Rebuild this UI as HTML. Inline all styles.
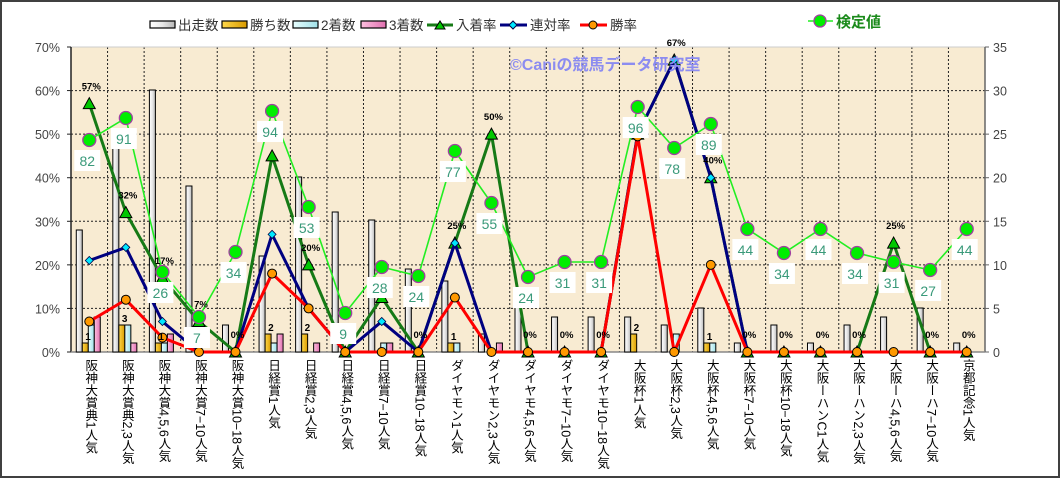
<!DOCTYPE html>
<html><head><meta charset="utf-8">
<style>
html,body{margin:0;padding:0;background:#fff;}
#wrap{position:relative;width:1060px;height:478px;overflow:hidden;font-family:"Liberation Sans","Noto Sans CJK JP",sans-serif;}
.xl{position:absolute;top:359px;writing-mode:vertical-rl;font-size:12.5px;color:#000;white-space:nowrap;line-height:13px;}
</style></head><body>
<div id="wrap">
<svg id="s" width="1060" height="478" xmlns="http://www.w3.org/2000/svg" style="position:absolute;left:0;top:0">
<defs>
<linearGradient id="gw" x1="0" x2="1"><stop offset="0" stop-color="#fff"/><stop offset="0.5" stop-color="#e8e8e8"/><stop offset="1" stop-color="#b8b8b8"/></linearGradient>
<linearGradient id="gg" x1="0" x2="1"><stop offset="0" stop-color="#ffd84a"/><stop offset="1" stop-color="#d89a00"/></linearGradient>
<linearGradient id="gc" x1="0" x2="1"><stop offset="0" stop-color="#e8ffff"/><stop offset="1" stop-color="#a0e0e8"/></linearGradient>
<linearGradient id="gp" x1="0" x2="1"><stop offset="0" stop-color="#ffc0e0"/><stop offset="1" stop-color="#e070b0"/></linearGradient>
</defs>
<rect x="1" y="1" width="1058" height="476" fill="#fff" stroke="#404040" stroke-width="2"/>
<rect x="71" y="47" width="914" height="305" fill="#f8ebd2"/>
<g id="grid"></g><g id="bars"></g><g id="lines"></g><g id="txt"></g>
<text x="510" y="70" font-size="16" font-weight="bold" fill="#8c8cf0" font-family="Liberation Sans,Noto Sans CJK JP,sans-serif">©Caniの競馬データ研究室</text>
</svg>
<div id="xls"></div>
</div>
<script>
var NS="http://www.w3.org/2000/svg";
function el(p,t,a,tx){var e=document.createElementNS(NS,t);for(var k in a)e.setAttribute(k,a[k]);if(tx!==undefined)e.textContent=tx;document.getElementById(p).appendChild(e);return e;}
var L=71,R=985,T=47,B=352,W=(R-L)/25;
function cx(i){return L+W*(i+.5);}
function py(p){return B-p*(B-T)/70;}
for(var i=1;i<7;i++){var y=py(i*10);el("grid","line",{x1:L,x2:R,y1:y,y2:y,stroke:"#222","stroke-width":1,"stroke-dasharray":"2,2"});}
for(var i=1;i<25;i++){var x=L+W*i;el("grid","line",{x1:x,x2:x,y1:T,y2:B,stroke:"#222","stroke-width":1,"stroke-dasharray":"2,2"});}
el("grid","line",{x1:L,x2:R,y1:T,y2:T,stroke:"#ccc"});
el("grid","line",{x1:L,x2:L,y1:T,y2:B,stroke:"#222","stroke-width":1.5});
el("grid","line",{x1:R,x2:R,y1:T,y2:B,stroke:"#666","stroke-width":1.5});
el("grid","line",{x1:L,x2:R,y1:B,y2:B,stroke:"#888","stroke-width":1.5});
for(var i=0;i<8;i++){var y=py(i*10);
 el("txt","text",{x:60,y:y+5,"text-anchor":"end","font-size":12.5,fill:"#444"},(i*10)+"%");
 el("grid","line",{x1:L-4,x2:L,y1:y,y2:y,stroke:"#222"});
 el("grid","line",{x1:R,x2:R+4,y1:y,y2:y,stroke:"#666"});
 el("txt","text",{x:993,y:y+5,"font-size":12.5,fill:"#444"},String(i*5));}
var bars=[[230,343,325,317],[134,325,325,343],[90,343,343,334],[186,0,0,0],[325,0,0,0],[256,334,343,334],[177,334,0,343],[212,0,0,0],[220,0,343,343],[269,0,0,0],[281,343,343,0],[334,0,0,343],[299,0,0,0],[317,0,0,0],[317,0,0,0],[317,334,0,0],[325,0,334,0],[308,343,343,0],[343,0,0,0],[325,0,0,0],[343,0,0,0],[325,0,0,0],[317,0,0,0],[308,0,0,0],[343,0,0,0]];
var fills=["url(#gw)","url(#gg)","url(#gc)","url(#gp)"];
bars.forEach(function(b,i){for(var j=0;j<4;j++){if(!b[j])continue;var x=cx(i)-13+j*6;el("bars","rect",{x:x,y:b[j],width:6,height:B-b[j],fill:fills[j],stroke:"#000","stroke-width":1});}});
var cnt={0:"1",1:"3",2:"1",5:"2",6:"2",10:"1",15:"2",17:"1"};
for(var k in cnt){el("txt","text",{x:cx(+k)-4,y:py(0)-(bars[k][1]?B-bars[k][1]:9)-3,"font-size":10,"font-weight":"bold"},cnt[k]);}
function pts(a){return a.map(function(v,i){return cx(i)+","+v;}).join(" ");}
var Z=B;
var nyu=[py(57),py(32),py(17),py(7),Z,py(45),py(20),Z,py(12.5),Z,py(25),py(50),Z,Z,Z,py(50),py(67),py(40),Z,Z,Z,Z,py(25),Z,Z];
var ren=[py(21),py(24),py(7),Z,Z,py(27),py(10),Z,py(7),Z,py(25),Z,Z,Z,Z,py(50),py(67),py(40),Z,Z,Z,Z,Z,Z,Z];
var win=[py(7),py(12),py(3.3),Z,Z,py(18),py(10),Z,Z,Z,py(12.5),Z,Z,Z,Z,py(49.5),Z,py(20),Z,Z,Z,Z,Z,Z,Z];
var ken=[140,118,272,317,252,111,207,313,267,276,151,203,277,262,262,107,148,124,229,253,229,253,262,270,229];
var kv=[82,91,26,7,34,94,53,9,28,24,77,55,24,31,31,96,78,89,44,34,44,34,31,27,44];
el("lines","polyline",{points:pts(nyu),fill:"none",stroke:"#167a16","stroke-width":3});
nyu.forEach(function(v,i){var x=cx(i);el("lines","polygon",{points:(x-6)+","+(v+5)+" "+(x+6)+","+(v+5)+" "+x+","+(v-6),fill:"#00c800",stroke:"#000","stroke-width":1});});
el("lines","polyline",{points:pts(ren),fill:"none",stroke:"#000080","stroke-width":3});
ren.forEach(function(v,i){var x=cx(i);el("lines","polygon",{points:(x-4)+","+v+" "+x+","+(v-4)+" "+(x+4)+","+v+" "+x+","+(v+4),fill:"#00e8ff",stroke:"#004","stroke-width":.8});});
el("lines","polyline",{points:pts(win),fill:"none",stroke:"#ff0000","stroke-width":3});
win.forEach(function(v,i){el("lines","circle",{cx:cx(i),cy:v,r:4.5,fill:"#ff9900",stroke:"#000","stroke-width":1});});
var pl={0:"57%",1:"32%",2:"17%",3:"7%",4:"0%",6:"20%",7:"0%",9:"0%",10:"25%",11:"50%",12:"0%",13:"0%",14:"0%",16:"67%",17:"40%",18:"0%",19:"0%",20:"0%",21:"0%",22:"25%",23:"0%",24:"0%"};
for(var k in pl){var i=+k;el("txt","text",{x:cx(i)+2,y:(nyu[i]==Z?338:nyu[i]-14),"text-anchor":"middle","font-size":9.5,"font-weight":"bold"},pl[k]);}
el("lines","polyline",{points:pts(ken),fill:"none",stroke:"#22ee22","stroke-width":1.6});
ken.forEach(function(v,i){el("lines","circle",{cx:cx(i),cy:v,r:6.5,fill:"#00ee00",stroke:"#a040a0","stroke-width":1.3});});
kv.forEach(function(v,i){var x=cx(i)-2,y=ken[i]+21;el("txt","rect",{x:x-13,y:y-11,width:26,height:21,fill:"#fff"});el("txt","text",{x:x,y:y+5,"text-anchor":"middle","font-size":14,fill:"#3a9a7a"},String(v));});
var lg=[["出走数",150,0],["勝ち数",222,1],["2着数",293,2],["3着数",361,3]];
lg.forEach(function(a){el("txt","rect",{x:a[1],y:21,width:25,height:7,fill:fills[a[2]],stroke:"#000","stroke-width":1.2});el("txt","text",{x:a[1]+28,y:30,"font-size":13.5,fill:"#333"},a[0]);});
el("txt","line",{x1:427,x2:453,y1:25,y2:25,stroke:"#167a16","stroke-width":3});el("txt","polygon",{points:"435,29 445,29 440,21",fill:"#00c800",stroke:"#000"});el("txt","text",{x:456,y:30,"font-size":13.5,fill:"#333"},"入着率");
el("txt","line",{x1:500,x2:527,y1:25,y2:25,stroke:"#000080","stroke-width":3});el("txt","polygon",{points:"509,25 513,21 517,25 513,29",fill:"#00e8ff",stroke:"#004"});el("txt","text",{x:530,y:30,"font-size":13.5,fill:"#333"},"連対率");
el("txt","line",{x1:580,x2:607,y1:25,y2:25,stroke:"#ff0000","stroke-width":3});el("txt","circle",{cx:593,cy:25,r:4,fill:"#ff9900",stroke:"#000"});el("txt","text",{x:610,y:30,"font-size":13.5,fill:"#333"},"勝率");
el("txt","line",{x1:808,x2:833,y1:21,y2:21,stroke:"#22ee22","stroke-width":1.6});el("txt","circle",{cx:820,cy:21,r:6,fill:"#00ee00",stroke:"#a040a0","stroke-width":1.3});el("txt","text",{x:836,y:27,"font-size":15,fill:"#1a8a1a","font-weight":"bold"},"検定値");
var xl=["阪神大賞典1人気","阪神大賞典2,3人気","阪神大賞4,5,6人気","阪神大賞7−10人気","阪神大賞10−18人気","日経賞1人気","日経賞2,3人気","日経賞4,5,6人気","日経賞7−10人気","日経賞10−18人気","ダイヤモン1人気","ダイヤモン2,3人気","ダイヤモ4,5,6人気","ダイヤモ7−10人気","ダイヤモ10−18人気","大阪杯1人気","大阪杯2,3人気","大阪杯4,5,6人気","大阪杯7−10人気","大阪杯10−18人気","大阪ーハンC1人気","大阪ーハン2,3人気","大阪ーハ4,5,6人気","大阪ーハ7−10人気","京都記念1人気"];
var h="";xl.forEach(function(t,i){h+='<div class="xl" style="left:'+(cx(i)-6)+'px">'+t+'</div>';});
document.getElementById("xls").innerHTML=h;
</script>
</body></html>
